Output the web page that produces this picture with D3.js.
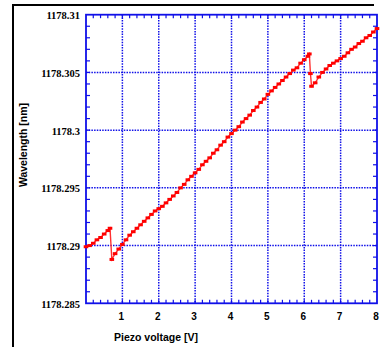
<!DOCTYPE html>
<meta charset="utf-8">
<head>
    <title>Wavelength vs piezo voltage</title>
    <script src="https://d3js.org/d3.v7.min.js"></script>
    <style>
        body { margin: 0; background: #ffffff; }
    </style>
</head>
<body>
<svg width="380" height="347"></svg>
<script>

// piezo voltage [V]
var voltage = [0, 0.1, 0.2, 0.3, 0.4, 0.5, 0.6, 0.66,
    0.71, 0.8, 0.9, 1.0, 1.1, 1.2, 1.3, 1.4, 1.5, 1.6, 1.7, 1.8, 1.9,
    2.0, 2.1, 2.2, 2.3, 2.4, 2.5, 2.6, 2.7, 2.8, 2.9,
    3.0, 3.1, 3.2, 3.3, 3.4, 3.5, 3.6, 3.7, 3.8, 3.9,
    4.0, 4.1, 4.2, 4.3, 4.4, 4.5, 4.6, 4.7, 4.8, 4.9,
    5.0, 5.1, 5.2, 5.3, 5.4, 5.5, 5.6, 5.7, 5.8, 5.9,
    6.0, 6.1, 6.14, 6.17,
    6.2, 6.3, 6.4, 6.5, 6.6, 6.7, 6.8, 6.9,
    7.0, 7.1, 7.2, 7.3, 7.4, 7.5, 7.6, 7.7, 7.8, 7.9, 8.0];

// wavelength [nm]
var wavelength = [1178.2899, 1178.2900, 1178.2902, 1178.2905, 1178.2907, 1178.2910, 1178.2913, 1178.2915,
    1178.2888, 1178.2893, 1178.2897, 1178.2901, 1178.2905, 1178.2909, 1178.2912, 1178.2915, 1178.2918, 1178.2921, 1178.2924, 1178.2927, 1178.2930,
    1178.2932, 1178.2934, 1178.2937, 1178.2940, 1178.2943, 1178.2946, 1178.2950, 1178.2953, 1178.2957, 1178.2960,
    1178.2963, 1178.2966, 1178.2970, 1178.2973, 1178.2976, 1178.2980, 1178.2983, 1178.2987, 1178.2990, 1178.2994,
    1178.2997, 1178.3000, 1178.3003, 1178.3007, 1178.3010, 1178.3013, 1178.3017, 1178.3020, 1178.3024, 1178.3027,
    1178.3031, 1178.3034, 1178.3037, 1178.3040, 1178.3043, 1178.3046, 1178.3049, 1178.3052, 1178.3054, 1178.3058,
    1178.3061, 1178.3064, 1178.3066, 1178.3049,
    1178.3038, 1178.3041, 1178.3046, 1178.3050, 1178.3053, 1178.3056, 1178.3058, 1178.3060,
    1178.3062, 1178.3064, 1178.3067, 1178.3070, 1178.3072, 1178.3075, 1178.3077, 1178.3080, 1178.3082, 1178.3085, 1178.3088];

var xTicks = [1, 2, 3, 4, 5, 6, 7, 8];
var yTicks = [1178.285, 1178.29, 1178.295, 1178.3, 1178.305, 1178.31];
var yTickLabels = ["1178.285", "1178.29", "1178.295", "1178.3", "1178.305", "1178.31"];

var svg = d3.select("svg"),
    pLeft = 86, pRight = 377, pTop = 14.7, pBottom = 303.3;

var x = d3.scaleLinear().domain([0, 8]).range([pLeft, pRight]);
var y = d3.scaleLinear().domain([1178.285, 1178.31]).range([pBottom, pTop]);

var blue = "#1010e8";

// black outer frame (top and left only)
svg.append("line").attr("x1", 13).attr("x2", 374).attr("y1", 5).attr("y2", 5)
    .attr("stroke", "#000").attr("stroke-width", 2);
svg.append("line").attr("x1", 13).attr("x2", 13).attr("y1", 4).attr("y2", 347)
    .attr("stroke", "#000").attr("stroke-width", 2);

// dotted grid
svg.append("g").selectAll("line")
    .data(xTicks.filter(function(d) { return d < 8; }))
    .enter().append("line")
    .attr("x1", function(d) { return x(d); }).attr("x2", function(d) { return x(d); })
    .attr("y1", pTop).attr("y2", pBottom)
    .attr("stroke", blue).attr("stroke-width", 1.5).attr("stroke-dasharray", "1.5,1.2");
svg.append("g").selectAll("line")
    .data(yTicks.slice(1, 5))
    .enter().append("line")
    .attr("x1", pLeft).attr("x2", pRight)
    .attr("y1", function(d) { return y(d); }).attr("y2", function(d) { return y(d); })
    .attr("stroke", blue).attr("stroke-width", 1.5).attr("stroke-dasharray", "1.5,1.2");

// minor ticks, pointing inwards on all four sides
var xMinor = d3.range(1, 40).map(function(i) { return i * 0.2; });
var yMinor = d3.range(1, 25).map(function(i) { return 1178.285 + i * 0.001; });

var ticks = svg.append("g").attr("stroke", blue).attr("stroke-width", 1.2);
xMinor.forEach(function(v) {
    ticks.append("line").attr("x1", x(v)).attr("x2", x(v)).attr("y1", pBottom).attr("y2", pBottom - 3.5);
    ticks.append("line").attr("x1", x(v)).attr("x2", x(v)).attr("y1", pTop).attr("y2", pTop + 3.5);
});
yMinor.forEach(function(v) {
    ticks.append("line").attr("x1", pLeft).attr("x2", pLeft + 4).attr("y1", y(v)).attr("y2", y(v));
    ticks.append("line").attr("x1", pRight).attr("x2", pRight - 4).attr("y1", y(v)).attr("y2", y(v));
});

// plot border
svg.append("rect")
    .attr("x", pLeft).attr("y", pTop)
    .attr("width", pRight - pLeft).attr("height", pBottom - pTop)
    .attr("fill", "none").attr("stroke", blue).attr("stroke-width", 1.8);

// data line and markers
var pts = voltage.map(function(v, i) { return [v, wavelength[i]]; });

svg.append("path")
    .datum(pts)
    .attr("fill", "none")
    .attr("stroke", "#ff3030")
    .attr("stroke-width", 1.4)
    .attr("d", d3.line().x(function(d) { return x(d[0]); }).y(function(d) { return y(d[1]); }));

svg.append("g").selectAll("rect")
    .data(pts)
    .enter().append("rect")
    .attr("x", function(d) { return x(d[0]) - 2.3; })
    .attr("y", function(d) { return y(d[1]) - 1.5; })
    .attr("width", 4.6).attr("height", 3)
    .attr("fill", "#ff0000");

// tick labels
svg.append("g").selectAll("text")
    .data(yTicks)
    .enter().append("text")
    .attr("x", 80)
    .attr("y", function(d) { return y(d); })
    .attr("dy", "0.42em")
    .attr("text-anchor", "end")
    .attr("font-family", "'Liberation Serif', 'Times New Roman', serif")
    .attr("font-weight", "bold")
    .attr("font-size", 10.5)
    .text(function(d, i) { return yTickLabels[i]; });

svg.append("g").selectAll("text")
    .data(xTicks)
    .enter().append("text")
    .attr("x", function(d) { return x(d) - 1; })
    .attr("y", 320)
    .attr("text-anchor", "middle")
    .attr("font-family", "'Liberation Sans', Arial, sans-serif")
    .attr("font-weight", "bold")
    .attr("font-size", 10)
    .text(function(d) { return d; });

// axis titles
svg.append("text")
    .attr("x", 156).attr("y", 341)
    .attr("text-anchor", "middle")
    .attr("font-family", "'Liberation Sans', Arial, sans-serif")
    .attr("font-weight", "bold")
    .attr("font-size", 10.5)
    .text("Piezo voltage [V]");

svg.append("text")
    .attr("transform", "translate(27,145) rotate(-90)")
    .attr("text-anchor", "middle")
    .attr("font-family", "'Liberation Sans', Arial, sans-serif")
    .attr("font-weight", "bold")
    .attr("font-size", 10.5)
    .text("Wavelength [nm]");

</script>
</body>
